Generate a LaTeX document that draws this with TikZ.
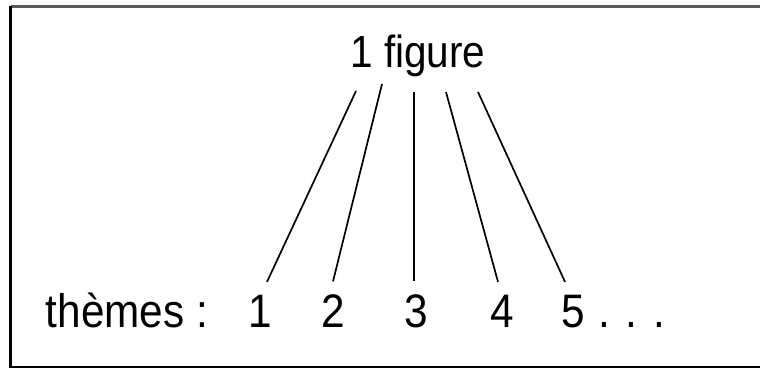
\documentclass[tikz,border=0pt]{standalone}
\usepackage{fontspec}
\setmainfont[FakeStretch=0.9]{Liberation Sans}
\usetikzlibrary{positioning}
\tikzset{
  every picture/.style={line width=1.6pt},
  lbl/.style={font=\fontsize{47}{50}\selectfont, inner sep=2pt},
  num/.style={lbl, anchor=base, inner ysep=12pt},
  link/.style={draw=black, line width=1.7pt},
  frame/.style={line width=2.6pt},
}
\begin{document}
\begin{tikzpicture}[x=1pt,y=-1pt]
  \useasboundingbox (0,0) rectangle (760,369);
  % frame runs off the right side of the page
  \draw[frame, black!65] (10.5,6.5) -- (775,6.5);
  \draw[frame] (10.5,6.5) -- (10.5,367) -- (775,367);
  \node[lbl, anchor=base, font=\fontsize{45}{48}\selectfont] (fig) at (418,67) {1 figure};
  \node[lbl, anchor=base west, inner sep=0pt] (themes) at (45,327) {thèmes :};
  \foreach \i/\x in {1/260,2/333,3/416,4/502,5/573}
    \node[num] (n\i) at (\x,327) {\i};
  \node[lbl, anchor=base west, inner sep=0pt] (dots) at ([xshift=10pt]n5.base east) {. . .};
  % tops of the five links, just below the title
  \foreach \i/\x/\y in {1/356/91,2/382/84,3/414/92,4/446/92,5/478/92}
    \coordinate (t\i) at (\x,\y);
  \foreach \i/\dx in {1/7,2/0,3/-2,4/-4,5/-8}
    \draw[link] (t\i) -- ([xshift=\dx pt]n\i.north);
\end{tikzpicture}
\end{document}
